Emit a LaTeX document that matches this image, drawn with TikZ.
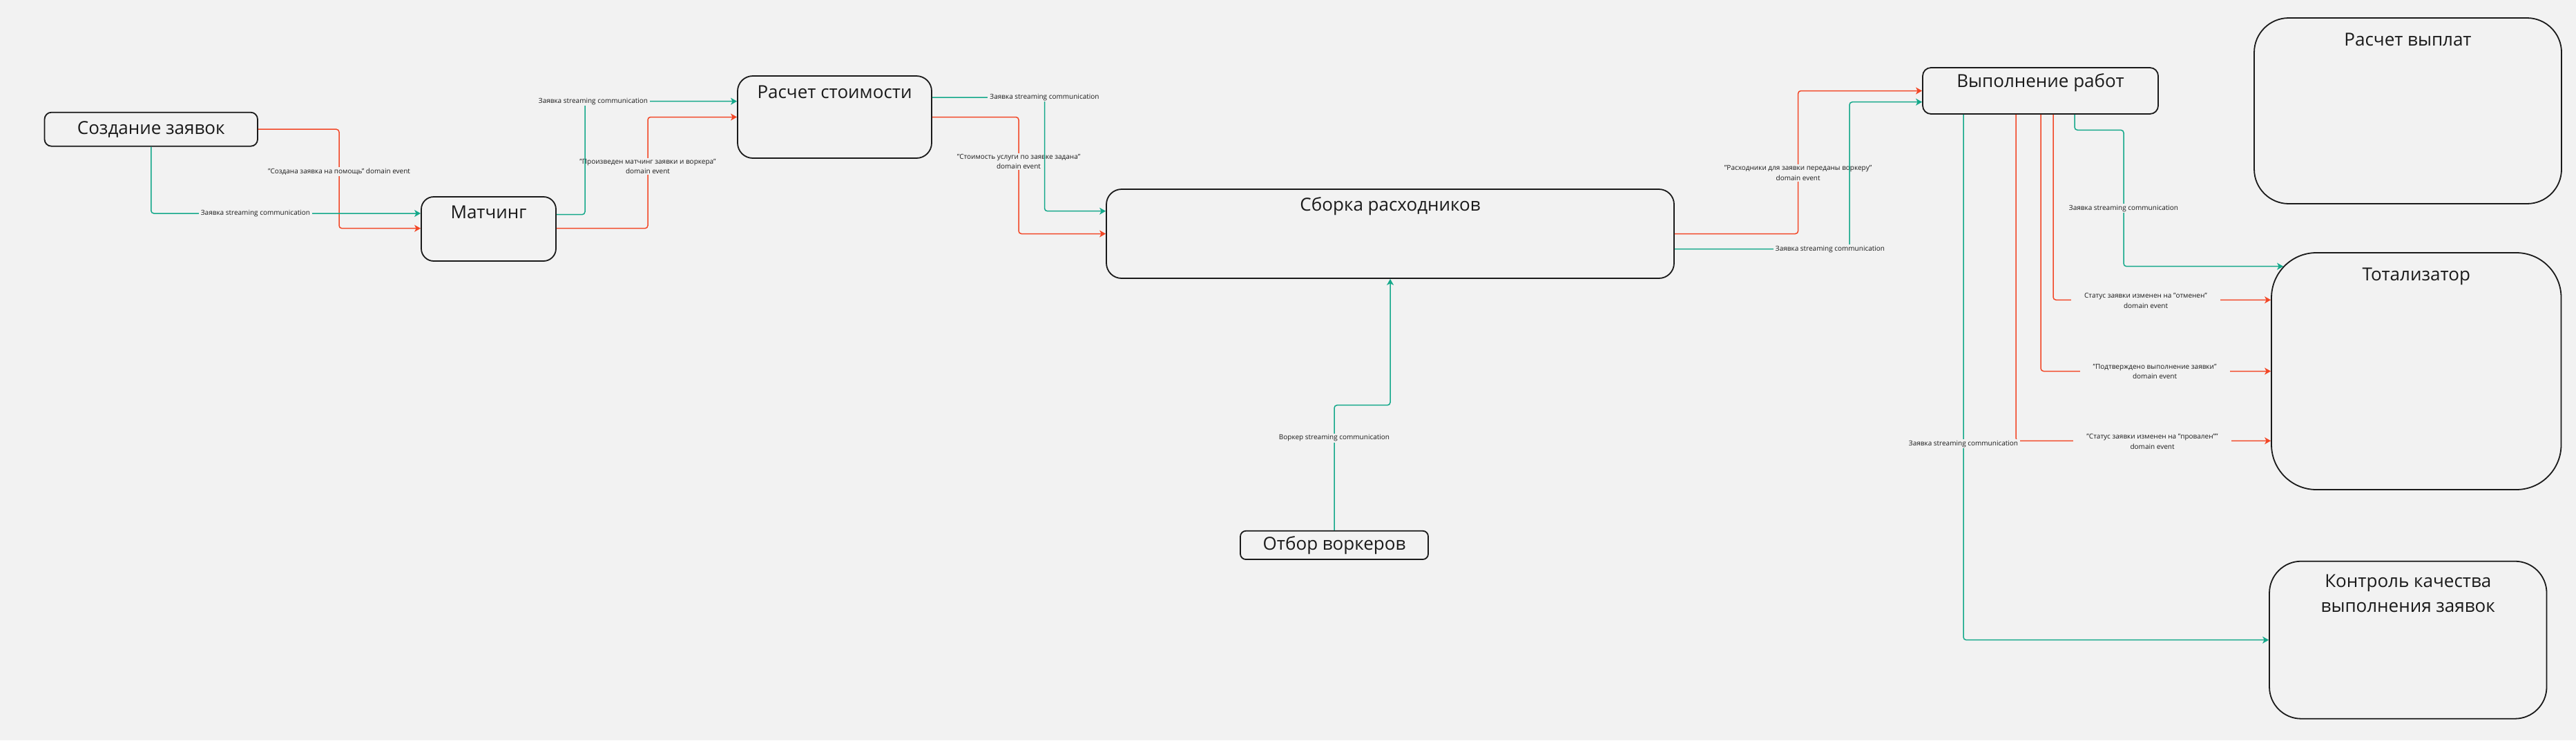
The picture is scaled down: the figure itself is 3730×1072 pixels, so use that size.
\documentclass[tikz,border=0pt]{standalone}
\usepackage{fontspec}
\setmainfont{Open Sans}
\usetikzlibrary{calc,arrows.meta}
\definecolor{bg}{HTML}{F2F2F2}
\definecolor{grn}{HTML}{14A88A}
\definecolor{rd}{HTML}{F24726}
\definecolor{ink}{HTML}{1A1A1A}
\begin{document}
\begin{tikzpicture}[x=1pt,y=-1pt,
  box/.style={draw=ink, line width=1.8pt, fill=bg, inner sep=0pt},
  ttl/.style={font=\fontsize{26}{36}\selectfont, text=ink, inner sep=0pt, align=center},
  lbl/.style={font=\fontsize{10}{14.5}\selectfont, text=ink, fill=bg, inner xsep=3pt, inner ysep=1.5pt, align=center},
  wlbl/.style={lbl, inner xsep=19pt},
  arr/.style={line width=1.5pt, rounded corners=4pt, -{Stealth[length=9pt,width=10pt,inset=2.5pt]}},
  gline/.style={arr, draw=grn},
  rline/.style={arr, draw=rd},
]
\fill[bg] (0,0) rectangle (3730,1072);
\useasboundingbox (0,0) rectangle (3730,1072);

% boxes
\node[box, minimum width=308.5pt, minimum height=49pt, rounded corners=10pt] (create) at (218.75,187.2) {};
\node[ttl] (tCreate) at (create.center) {Создание заявок};
\node[box, minimum width=195pt, minimum height=93pt, rounded corners=18pt] (match) at (707.5,331.5) {};
\node[ttl] (tMatch) at ([yshift=-23pt]match.north) {Матчинг};
\node[box, minimum width=281pt, minimum height=119pt, rounded corners=22pt] (cost) at (1208.5,169.5) {};
\node[ttl] (tCost) at ([yshift=-24pt]cost.north) {Расчет стоимости};
\node[box, minimum width=822pt, minimum height=129pt, rounded corners=22pt] (supply) at (2013,338.5) {};
\node[ttl] (tSupply) at ([yshift=-26pt]supply.north) {Сборка расходников};
\node[box, minimum width=341pt, minimum height=67pt, rounded corners=12pt] (work) at (2954.5,131.5) {};
\node[ttl] (tWork) at ([yshift=-23pt]work.north) {Выполнение работ};
\node[box, minimum width=445pt, minimum height=269pt, rounded corners=50pt] (payout) at (3486.5,160.5) {};
\node[ttl] (tPayout) at ([yshift=-32pt]payout.north) {Расчет выплат};
\node[box, minimum width=419.5pt, minimum height=343pt, rounded corners=65pt] (total) at (3498.75,537.5) {};
\node[ttl] (tTotal) at ([yshift=-35pt]total.north) {Тотализатор};
\node[box, minimum width=401.5pt, minimum height=228pt, rounded corners=46pt] (quality) at (3486.75,926.7) {};
\node[ttl] (tQuality) at ([yshift=-48pt]quality.north) {Контроль качества\\выполнения заявок};
\node[box, minimum width=272pt, minimum height=41.3pt, rounded corners=8pt] (select) at (1932,789.4) {};
\node[ttl] (tSelect) at (select.center) {Отбор воркеров};

% red connectors
\draw[rline] (create.east) -| (491,330.7) -- (match.west |- 0,330.7);
\node[lbl] (lR1) at (491,248.7) {"Создана заявка на помощь" domain event};
\draw[rline] (match.east |- 0,330.7) -| (938,169.5) -- (cost.west);
\node[lbl] (lR2) at (938,241) {"Произведен матчинг заявки и воркера"\\domain event};
\draw[rline] (cost.east) -| (1475,338.5) -- (supply.west);
\node[lbl] (lR3) at (1475,234) {"Стоимость услуги по заявке задана"\\domain event};
\draw[rline] (supply.east) -| (2603.6,131.5) -- (work.west);
\node[lbl] (lR4) at (2603.6,250.3) {"Расходники для заявки переданы воркеру"\\domain event};
\draw[rline] (work.south -| 2973,0) |- (total.west |- 0,434.3);
\node[wlbl] (lR5) at (3107,435.5) {Статус заявки изменен на "отменен"\\domain event};
\draw[rline] (work.south -| 2955,0) |- (total.west);
\node[wlbl] (lR6) at (3120,538) {"Подтверждено выполнение заявки"\\domain event};
\draw[rline] (work.south -| 2919,0) |- (total.west |- 0,638.3);
\node[wlbl] (lR7) at (3116.5,639.2) {"Статус заявки изменен на "провален""\\domain event};

% green connectors
\draw[gline] (create.south) |- (match.west |- 0,309);
\node[lbl] (lG1) at (370,309) {Заявка streaming communication};
\draw[gline] (match.east |- 0,310.7) -| (847,146.7) -- (cost.west |- 0,146.7);
\node[lbl] (lG2) at (859,146.7) {Заявка streaming communication};
\draw[gline] (cost.east |- 0,141) -| (1512.5,305.7) -- (supply.west |- 0,305.7);
\node[lbl] (lG3) at (1512.5,141) {Заявка streaming communication};
\draw[gline] (select.north) |- (2013,586.7) -- (supply.south);
\node[lbl] (lG4) at (1932,634.3) {Воркер streaming communication};
\draw[gline] (supply.east |- 0,360.7) -| (2678,147.7) -- (work.west |- 0,147.7);
\node[lbl] (lG5) at (2650,360.7) {Заявка streaming communication};
\draw[gline] (work.south -| 3004,0) |- (3075,188.3) -- (3075,385.7) -- ($(total.west |- 0,385.7)+(18,0)$);
\node[lbl] (lG6) at (3075,301.7) {Заявка streaming communication};
\draw[gline] (work.south -| 2843,0) |- (quality.west);
\node[lbl] (lG7) at (2843,642.7) {Заявка streaming communication};
\end{tikzpicture}
\end{document}
